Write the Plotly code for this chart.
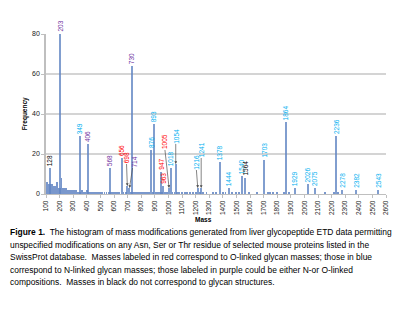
import plotly.graph_objects as go

# ---------------- data ----------------
label_mass = [128, 203, 349, 406, 568, 656, 698, 714, 730, 876, 893, 947, 963, 1005,
              1018, 1054, 1216, 1241, 1378, 1444, 1540, 1564, 1703, 1864, 1929, 2026,
              2075, 2236, 2278, 2382, 2543]
label_freq = [13, 80, 29, 25, 13, 18, 4, 3, 64, 22, 35, 11, 4, 3,
              13, 15, 3, 3, 16, 3, 9, 8, 17, 36, 3, 5,
              3, 29, 2, 2, 2]
label_class = ["none", "both", "N", "both", "both", "O", "O", "both", "both", "N", "N", "O", "O", "O",
               "N", "N", "N", "N", "N", "N", "N", "none", "N", "N", "N", "N",
               "N", "N", "N", "N", "N"]
# callout offsets (pixels) for labels that are pulled away from their bar
callout_mass = [698, 714, 1005, 1054, 1216, 1241]
callout_dx = [-1, 4, -5, 0, -2, 0]
callout_dy = [-28, -26, -46, -28, -26, -38]

noise_mass = [101, 103, 105, 107, 109, 111, 113, 115, 117, 119, 121, 123, 125,
              130, 132, 134, 136, 138, 140, 142, 144, 146, 148, 150, 152, 154, 156, 158,
              160, 162, 164, 166, 168, 170, 172, 174, 176, 178,
              180, 183, 186, 189, 192, 195, 198,
              207, 210, 214, 217, 220, 223, 226, 229, 232, 235, 238, 241, 244, 247, 250,
              253, 256, 259, 262, 265, 268, 271, 274, 277, 280,
              284, 288, 292, 296, 300, 305, 310, 315, 320, 327, 333, 340,
              356, 362, 370, 378, 385, 392, 400, 412, 420, 430, 440, 450, 462, 475, 488, 500,
              515, 530, 545, 560, 580, 595, 610, 625, 640, 670, 690, 722, 740, 755, 770, 785,
              800, 815, 830, 845, 860, 885, 910, 925, 935, 955, 975, 990,
              1030, 1045, 1065, 1080, 1100, 1120, 1140, 1160, 1180, 1205, 1230, 1255, 1280,
              1330, 1350, 1400, 1420, 1470, 1500, 1520, 1590, 1650,
              1730, 1750, 1770, 1800, 1850, 1890, 2150, 2220, 2250]
noise_freq = [5, 6, 4, 5, 3, 6, 4, 5, 4, 3, 5, 4, 3,
              4, 5, 3, 4, 5, 3, 4, 5, 3, 4, 3, 4, 4, 3, 2,
              4, 3, 4, 2, 3, 3, 3, 2, 3, 6,
              3, 2, 3, 3, 2, 3, 2,
              3, 2, 8, 3, 2, 3, 2, 3, 2, 1, 3, 2, 2, 3, 2,
              2, 1, 2, 2, 1, 2, 1, 2, 1, 2,
              1, 2, 1, 2, 1, 2, 1, 1, 2, 1, 1, 1,
              1, 2, 1, 1, 1, 1, 2, 1, 1, 1, 1, 1, 1, 1, 1, 1,
              1, 1, 1, 1, 1, 1, 1, 1, 1, 1, 1, 1, 1, 1, 1, 1,
              1, 1, 1, 1, 1, 1, 1, 1, 1, 1, 1, 1,
              1, 1, 1, 1, 1, 1, 1, 1, 1, 1, 1, 1, 1,
              1, 1, 1, 1, 1, 1, 1, 1, 1,
              1, 1, 1, 1, 1, 1, 1, 1, 1]

x_ticks = list(range(100, 2700, 100))
y_ticks = [0, 20, 40, 60, 80]

caption_lines = [
    "<b>Figure 1.</b>  The histogram of mass modifications generated from liver glycopeptide ETD data permitting",
    "unspecified modifications on any Asn, Ser or Thr residue of selected mouse proteins listed in the",
    "SwissProt database.  Masses labeled in red correspond to O-linked glycan masses; those in blue",
    "correspond to N-linked glycan masses; those labeled in purple could be either N-or O-linked",
    "compositions.  Masses in black do not correspond to glycan structures.",
]

class_color = {"O": "#ff0000", "N": "#00b0f0", "both": "#7030a0", "none": "#000000"}

# ---------------- layout geometry ----------------
W, H = 400, 323
L, R, T, B = 46, 11, 34, 129
PW, PH = W - L - R, H - T - B


def px_x(px):
    return (px - L) / PW


def px_y(py):
    return (H - B - py) / PH


BAR_COLOR = "#6286c4"
FONT = "Liberation Sans, Arial"

fig = go.Figure()
fig.add_trace(go.Bar(x=noise_mass, y=noise_freq, width=7,
                     marker=dict(color=BAR_COLOR, line=dict(width=0)), opacity=0.85,
                     showlegend=False, hoverinfo="x+y"))
fig.add_trace(go.Bar(x=label_mass, y=label_freq, width=8,
                     marker=dict(color=BAR_COLOR, line=dict(width=0)), opacity=0.8,
                     showlegend=False, hoverinfo="x+y"))

annotations = []
for m, f, c in zip(label_mass, label_freq, label_class):
    col = class_color[c]
    if m in callout_mass:
        i = callout_mass.index(m)
        annotations.append(dict(x=m, y=f, xref="x", yref="y", text=str(m), textangle=-90,
                                font=dict(size=6.5, color=col, family=FONT),
                                showarrow=True, ax=callout_dx[i], ay=callout_dy[i],
                                arrowhead=2, arrowsize=0.8, arrowwidth=0.7,
                                arrowcolor="#505050", standoff=0, borderpad=0))
    else:
        annotations.append(dict(x=m, y=f, xref="x", yref="y", text=str(m), textangle=-90,
                                font=dict(size=6.5, color=col, family=FONT),
                                showarrow=False, yanchor="bottom", xanchor="center",
                                borderpad=0, yshift=1))

# axis titles
annotations.append(dict(x=px_x(205), y=px_y(219), xref="paper", yref="paper", text="<b>Mass</b>",
                        showarrow=False, xanchor="center", yanchor="middle",
                        font=dict(size=6.5, color="#000000", family=FONT)))
annotations.append(dict(x=px_x(25), y=px_y(114), xref="paper", yref="paper",
                        text="<b>Frequency</b>", textangle=-90, showarrow=False,
                        xanchor="center", yanchor="middle",
                        font=dict(size=6.5, color="#000000", family=FONT)))

# caption
cap_y = [232, 244.5, 257, 269.5, 282]
for line, yy in zip(caption_lines, cap_y):
    annotations.append(dict(x=px_x(8), y=px_y(yy), xref="paper", yref="paper", text=line,
                            showarrow=False, xanchor="left", yanchor="middle",
                            font=dict(size=8.45, color="#000000", family=FONT)))

fig.update_layout(
    width=W, height=H,
    margin=dict(l=L, r=R, t=T, b=B, pad=0),
    paper_bgcolor="white", plot_bgcolor="white",
    bargap=0,
    annotations=annotations,
    font=dict(family=FONT, size=7, color="#404040"),
)
fig.update_xaxes(range=[100, 2600], tickvals=x_ticks, ticktext=[str(v) for v in x_ticks],
                 tickangle=-90, tickfont=dict(size=6.5, color="#202020"),
                 showgrid=False, zeroline=False, showline=True, linecolor="#bfbfbf", linewidth=1,
                 ticks="outside", ticklen=3, tickcolor="#bfbfbf")
fig.update_yaxes(range=[0, 80], tickvals=y_ticks, tickfont=dict(size=7, color="#202020"),
                 showgrid=True, gridcolor="#d4d4d4", gridwidth=1.5, zeroline=False,
                 showline=True, linecolor="#bfbfbf", linewidth=1.5,
                 ticks="outside", ticklen=3, tickcolor="#bfbfbf")

fig.write_html("out.html")
